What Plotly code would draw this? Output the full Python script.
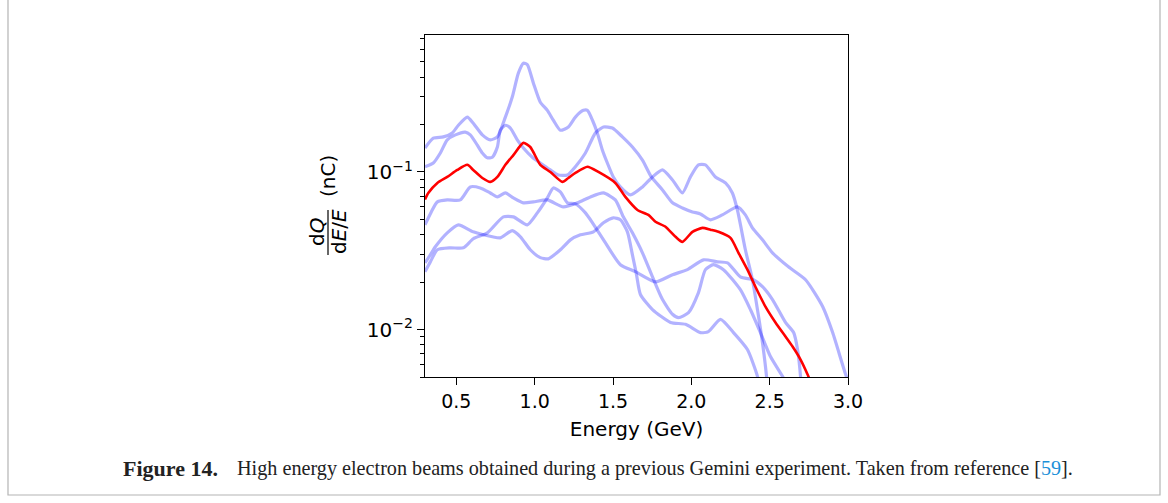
import plotly.graph_objects as go

# ---------------- data ----------------
energy_a = [0.30, 0.353, 0.417, 0.474, 0.513, 0.570, 0.608, 0.666, 0.717, 0.762, 0.813, 0.857, 0.896,
            0.928, 0.953, 0.992, 1.036, 1.081, 1.119, 1.164, 1.215, 1.260, 1.311, 1.337, 1.369, 1.400,
            1.432, 1.464, 1.502, 1.547, 1.611, 1.688, 1.752, 1.816, 1.880, 1.943, 1.994, 2.045, 2.090,
            2.154, 2.218, 2.262, 2.294, 2.345, 2.390, 2.422, 2.454, 2.480, 2.49]
charge_a = [0.142, 0.164, 0.167, 0.177, 0.198, 0.223, 0.204, 0.172, 0.160, 0.167, 0.223, 0.299, 0.424,
            0.490, 0.480, 0.366, 0.277, 0.246, 0.213, 0.184, 0.193, 0.223, 0.246, 0.246, 0.213, 0.177,
            0.138, 0.114, 0.093, 0.0804, 0.0715, 0.0804, 0.093, 0.103, 0.089, 0.0736, 0.093, 0.111, 0.111,
            0.093, 0.0852, 0.0736, 0.0574, 0.0321, 0.0207, 0.0134, 0.00828, 0.00505, 0.0038]

energy_c = [0.30, 0.353, 0.398, 0.442, 0.494, 0.557, 0.589, 0.634, 0.666, 0.698, 0.730, 0.762, 0.781,
            0.813, 0.845, 0.889, 0.928, 0.985, 1.036, 1.100, 1.151, 1.209, 1.260, 1.324, 1.388, 1.439,
            1.496, 1.560, 1.624, 1.688, 1.745, 1.816, 1.880, 1.943, 2.007, 2.058, 2.122, 2.198, 2.294,
            2.345, 2.390, 2.454, 2.518, 2.620, 2.729, 2.838, 2.902, 2.985, 3.02]
charge_c = [0.108, 0.114, 0.132, 0.160, 0.172, 0.179, 0.172, 0.148, 0.132, 0.123, 0.124, 0.144, 0.184,
            0.198, 0.190, 0.160, 0.142, 0.124, 0.114, 0.103, 0.0957, 0.0957, 0.108, 0.132, 0.177, 0.193,
            0.190, 0.167, 0.144, 0.119, 0.093, 0.0769, 0.0637, 0.0591, 0.0558, 0.0542, 0.0497, 0.0534, 0.0600,
            0.0534, 0.0442, 0.0371, 0.0307, 0.0250, 0.0207, 0.0140, 0.00957, 0.00519, 0.0042]

energy_d = [0.30, 0.340, 0.379, 0.442, 0.525, 0.589, 0.653, 0.717, 0.762, 0.813, 0.864, 0.928, 0.992,
            1.081, 1.183, 1.273, 1.356, 1.439, 1.515, 1.566, 1.624, 1.688, 1.752, 1.816, 1.880, 1.918,
            1.982, 2.045, 2.090, 2.141, 2.205, 2.313, 2.377, 2.441, 2.505, 2.582, 2.61]
charge_d = [0.0462, 0.0558, 0.0646, 0.0665, 0.0665, 0.0804, 0.0792, 0.0736, 0.0695, 0.0736, 0.0685, 0.0637, 0.0646,
            0.0665, 0.0600, 0.0637, 0.0695, 0.0736, 0.0665, 0.0519, 0.0411, 0.0307, 0.0216, 0.0155, 0.0125, 0.0119,
            0.0128, 0.0171, 0.0240, 0.0258, 0.0240, 0.0179, 0.0134, 0.00957, 0.00674, 0.00505, 0.0045]

energy_q = [0.30, 0.334, 0.379, 0.462, 0.545, 0.608, 0.698, 0.800, 0.864, 0.953, 1.017, 1.081, 1.119,
            1.164, 1.209, 1.260, 1.324, 1.369, 1.451, 1.547, 1.643, 1.771, 1.880, 1.975, 2.078, 2.167,
            2.231, 2.313, 2.396, 2.454, 2.518, 2.601, 2.653, 2.678, 2.697, 2.70]
charge_q = [0.0233, 0.0269, 0.0321, 0.0330, 0.0330, 0.0377, 0.0411, 0.0519, 0.0519, 0.0462, 0.0550, 0.0685, 0.0792,
            0.0747, 0.0637, 0.0627, 0.0550, 0.0476, 0.0356, 0.0258, 0.0233, 0.0201, 0.0223, 0.0240, 0.0277, 0.0269,
            0.0265, 0.0216, 0.0207, 0.0187, 0.0155, 0.0111, 0.00957, 0.00747, 0.00505, 0.0045]

energy_p = [0.30, 0.334, 0.366, 0.442, 0.513, 0.608, 0.730, 0.781, 0.857, 0.909, 0.972, 1.036, 1.087,
            1.164, 1.228, 1.292, 1.375, 1.439, 1.502, 1.547, 1.592, 1.624, 1.650, 1.675, 1.752, 1.867,
            1.963, 2.058, 2.109, 2.186, 2.269, 2.358, 2.422, 2.43]
charge_p = [0.0265, 0.0298, 0.0335, 0.0411, 0.0462, 0.0417, 0.0388, 0.0382, 0.0424, 0.0388, 0.0321, 0.0286, 0.0281,
            0.0321, 0.0371, 0.0399, 0.0417, 0.0476, 0.0512, 0.0497, 0.0417, 0.0298, 0.0223, 0.0167, 0.0134, 0.0111,
            0.0108, 0.00957, 0.00971, 0.0116, 0.00957, 0.00747, 0.00505, 0.0045]

energy_mean = [0.30, 0.321, 0.379, 0.442, 0.506, 0.570, 0.608, 0.666, 0.717, 0.762, 0.813, 0.864, 0.928,
               0.972, 1.036, 1.100, 1.177, 1.215, 1.260, 1.337, 1.407, 1.515, 1.579, 1.656, 1.726, 1.771,
               1.835, 1.899, 1.943, 2.007, 2.071, 2.122, 2.173, 2.250, 2.301, 2.358, 2.409, 2.473, 2.537,
               2.601, 2.646, 2.697, 2.742, 2.76]
charge_mean = [0.067, 0.0736, 0.0852, 0.093, 0.103, 0.111, 0.103, 0.0916, 0.0865, 0.093, 0.111, 0.128, 0.153,
               0.144, 0.111, 0.100, 0.0865, 0.0916, 0.0986, 0.108, 0.100, 0.0852, 0.0695, 0.0574, 0.0534, 0.0483,
               0.0449, 0.0388, 0.0360, 0.0417, 0.0442, 0.0430, 0.0417, 0.0382, 0.0307, 0.0240, 0.0187, 0.0140, 0.0111,
               0.00903, 0.00780, 0.00645, 0.00519, 0.0047]

blue_series = [(energy_a, charge_a), (energy_c, charge_c), (energy_d, charge_d),
               (energy_q, charge_q), (energy_p, charge_p)]

x_tick_vals = [0.5, 1.0, 1.5, 2.0, 2.5, 3.0]
x_tick_text = ["0.5", "1.0", "1.5", "2.0", "2.5", "3.0"]
y_tick_vals = [0.01, 0.1]
y_tick_text = ["10<sup>\u22122</sup>", "10<sup>\u22121</sup>"]
y_minor_vals = [0.005, 0.006, 0.007, 0.008, 0.009,
                0.02, 0.03, 0.04, 0.05, 0.06, 0.07, 0.08, 0.09,
                0.2, 0.3, 0.4, 0.5, 0.6, 0.7]
x_label = "Energy (GeV)"
y_label_num = "d<i>Q</i>"
y_label_den = "d<i>E</i>/<i>E</i>"
y_label_unit = "(nC)"
caption_bold = "Figure 14."
caption_text = "High energy electron beams obtained during a previous Gemini experiment. Taken from reference "
caption_ref = "59"

# ---------------- layout helpers (pixel -> paper) ----------------
W, H = 1168, 503
L, R, T, B = 425, 848, 35, 377


def px(x):
    return (x - L) / (R - L)


def py(y):
    return (B - y) / (B - T)


fig = go.Figure()
for ex, cq in blue_series:
    fig.add_trace(go.Scatter(x=ex, y=cq, mode="lines",
                             line=dict(color="rgba(0,0,255,0.3)", width=3.2, shape="spline", smoothing=0.6),
                             hoverinfo="skip"))
fig.add_trace(go.Scatter(x=energy_mean, y=charge_mean, mode="lines",
                         line=dict(color="#ff0000", width=2.6, shape="spline", smoothing=0.6),
                         hoverinfo="skip"))

axis_font = dict(family="DejaVu Sans", size=19, color="black")

fig.update_layout(
    width=W, height=H,
    margin=dict(l=L, r=W - R, t=T, b=H - B, pad=0),
    paper_bgcolor="white", plot_bgcolor="white",
    showlegend=False,
    xaxis=dict(range=[0.3, 3.0], tickvals=x_tick_vals, ticktext=x_tick_text,
               ticks="outside", ticklen=7, tickwidth=1.2, tickcolor="black",
               showline=True, linecolor="black", linewidth=1.4, mirror=True,
               showgrid=False, zeroline=False, tickfont=axis_font,
               title=dict(text=x_label, font=dict(family="DejaVu Sans", size=20, color="black"), standoff=10)),
    yaxis=dict(type="log", range=[-2.301, -0.1308], tickvals=y_tick_vals, ticktext=y_tick_text,
               ticks="outside", ticklen=7, tickwidth=1.2, tickcolor="black",
               showline=True, linecolor="black", linewidth=1.4, mirror=True,
               showgrid=False, zeroline=False, tickfont=dict(family="DejaVu Sans", size=20, color="black"),
               minor=dict(tickvals=y_minor_vals, ticks="outside", ticklen=4, tickwidth=1,
                          tickcolor="black", showgrid=False)),
)

label_font = dict(family="DejaVu Sans", size=20, color="black")
fig.add_annotation(x=px(317), y=py(232), xref="paper", yref="paper", text=y_label_num,
                   textangle=-90, showarrow=False, font=label_font, xanchor="center", yanchor="middle")
fig.add_annotation(x=px(339), y=py(232), xref="paper", yref="paper", text=y_label_den,
                   textangle=-90, showarrow=False, font=label_font, xanchor="center", yanchor="middle")
fig.add_annotation(x=px(328), y=py(176), xref="paper", yref="paper", text=y_label_unit,
                   textangle=-90, showarrow=False, font=label_font, xanchor="center", yanchor="middle")
fig.add_shape(type="line", xref="paper", yref="paper", x0=px(328), x1=px(328), y0=py(210), y1=py(255),
              line=dict(color="black", width=1.2))

cap_font = dict(family="Liberation Serif", size=20.2, color="#222222")
fig.add_annotation(x=px(121), y=py(468), xref="paper", yref="paper", text="<b>" + caption_bold + "</b>",
                   showarrow=False, font=dict(family="Liberation Serif", size=22, color="#222222"),
                   xanchor="left", yanchor="middle")
fig.add_annotation(x=px(235), y=py(468), xref="paper", yref="paper",
                   text=caption_text + "[<span style='color:#1a8fd8'>" + caption_ref + "</span>].",
                   showarrow=False, font=cap_font, xanchor="left", yanchor="middle")

# outer frame of the figure panel
fig.add_shape(type="rect", xref="paper", yref="paper", x0=px(8), x1=px(1160), y0=py(495), y1=py(-10),
              line=dict(color="#b4b4b4", width=1.2), fillcolor="rgba(0,0,0,0)", layer="below")

fig.write_html("out.html", include_plotlyjs=True, config={"displayModeBar": False},
               post_script="document.body.style.margin='0';document.body.style.overflow='hidden';")
